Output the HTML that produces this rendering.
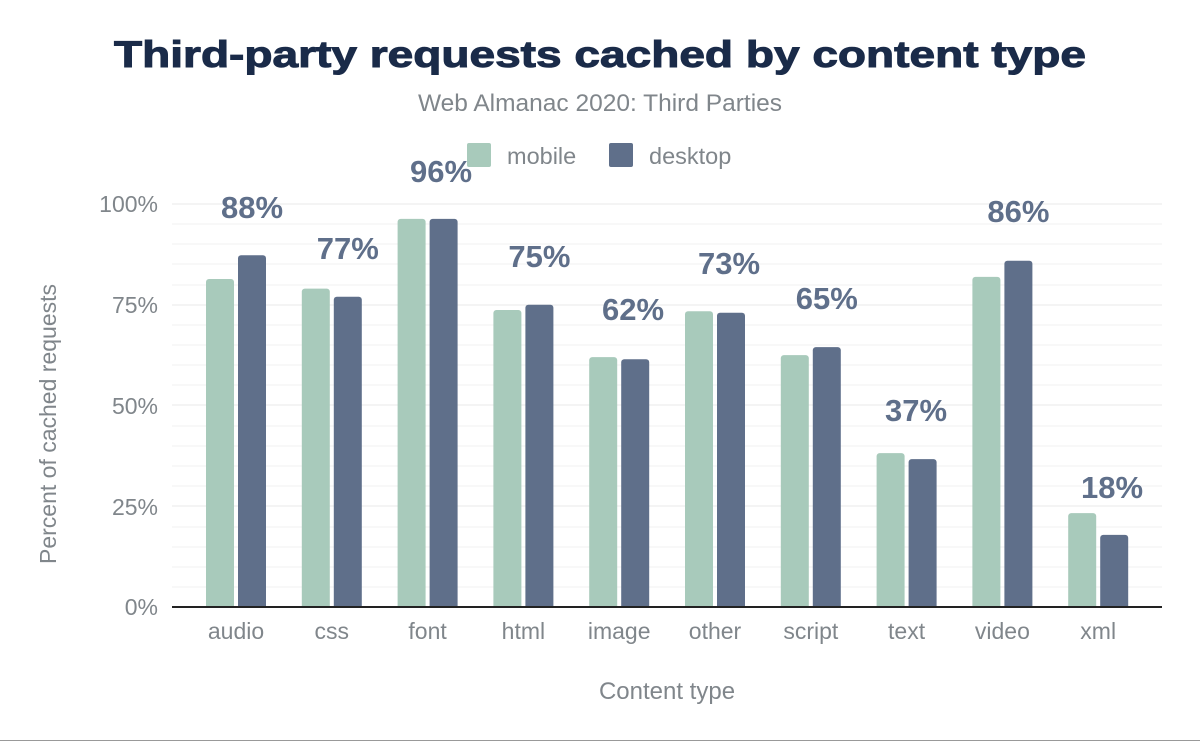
<!DOCTYPE html>
<html><head><meta charset="utf-8"><style>
html,body{margin:0;padding:0;background:#fff;}
svg{display:block;font-family:"Liberation Sans",Arial,sans-serif;}
</style></head><body>
<svg width="1200" height="742" viewBox="0 0 1200 742" xmlns="http://www.w3.org/2000/svg">
<defs><clipPath id="c"><rect x="0" y="0" width="1200" height="607"/></clipPath></defs>
<text x="600" y="67" text-anchor="middle" font-size="37" font-weight="900" fill="#1a2b49" textLength="972" lengthAdjust="spacingAndGlyphs" stroke="#1a2b49" stroke-width="1">Third-party requests cached by content type</text>
<text x="600" y="111" text-anchor="middle" font-size="24.5" fill="#80868b">Web Almanac 2020: Third Parties</text>
<rect x="467" y="143" width="24" height="24" rx="2" fill="#a8cabb"/>
<text x="507" y="164" font-size="23.5" fill="#80868b">mobile</text>
<rect x="609" y="143" width="24" height="24" rx="2" fill="#5f6f8a"/>
<text x="649" y="164" font-size="23.5" fill="#80868b">desktop</text>
<g stroke="#f1f1f1" stroke-width="1">
<line x1="172" x2="1162" y1="587" y2="587"/><line x1="172" x2="1162" y1="567" y2="567"/><line x1="172" x2="1162" y1="547" y2="547"/><line x1="172" x2="1162" y1="527" y2="527"/>
<line x1="172" x2="1162" y1="506" y2="506" stroke="#e8e8e8"/>
<line x1="172" x2="1162" y1="486" y2="486"/><line x1="172" x2="1162" y1="466" y2="466"/><line x1="172" x2="1162" y1="446" y2="446"/><line x1="172" x2="1162" y1="426" y2="426"/>
<line x1="172" x2="1162" y1="405" y2="405" stroke="#e8e8e8"/>
<line x1="172" x2="1162" y1="385" y2="385"/><line x1="172" x2="1162" y1="365" y2="365"/><line x1="172" x2="1162" y1="345" y2="345"/><line x1="172" x2="1162" y1="325" y2="325"/>
<line x1="172" x2="1162" y1="305" y2="305" stroke="#e8e8e8"/>
<line x1="172" x2="1162" y1="285" y2="285"/><line x1="172" x2="1162" y1="264" y2="264"/><line x1="172" x2="1162" y1="244" y2="244"/><line x1="172" x2="1162" y1="224" y2="224"/>
<line x1="172" x2="1162" y1="204" y2="204" stroke="#e8e8e8"/>
</g>
<g font-size="23" fill="#80868b" text-anchor="end">
<text x="158" y="212">100%</text><text x="158" y="313">75%</text><text x="158" y="414">50%</text><text x="158" y="515">25%</text><text x="158" y="615">0%</text>
</g>
<text transform="translate(56,424) rotate(-90)" text-anchor="middle" font-size="23" fill="#80868b">Percent of cached requests</text>
<g clip-path="url(#c)">
<g fill="#a8cabb">
<rect x="206" y="279.0" width="28" height="332" rx="3"/>
<rect x="301.8" y="288.6" width="28" height="322.4" rx="3"/>
<rect x="397.6" y="218.9" width="28" height="392.1" rx="3"/>
<rect x="493.4" y="310.0" width="28" height="301" rx="3"/>
<rect x="589.2" y="357.1" width="28" height="253.9" rx="3"/>
<rect x="685" y="311.2" width="28" height="299.8" rx="3"/>
<rect x="780.8" y="355.1" width="28" height="255.9" rx="3"/>
<rect x="876.6" y="453.1" width="28" height="157.9" rx="3"/>
<rect x="972.4" y="276.9" width="28" height="334.1" rx="3"/>
<rect x="1068.2" y="513.1" width="28" height="97.9" rx="3"/>
</g>
<g fill="#5f6f8a">
<rect x="238" y="255.2" width="28" height="355.8" rx="3"/>
<rect x="333.8" y="296.7" width="28" height="314.3" rx="3"/>
<rect x="429.6" y="218.9" width="28" height="392.1" rx="3"/>
<rect x="525.4" y="304.75" width="28" height="306.25" rx="3"/>
<rect x="621.2" y="359.2" width="28" height="251.8" rx="3"/>
<rect x="717" y="312.8" width="28" height="298.2" rx="3"/>
<rect x="812.8" y="347.1" width="28" height="263.9" rx="3"/>
<rect x="908.6" y="459.1" width="28" height="151.9" rx="3"/>
<rect x="1004.4" y="260.8" width="28" height="350.2" rx="3"/>
<rect x="1100.2" y="534.9" width="28" height="76.1" rx="3"/>
</g>
</g>
<g font-size="31" font-weight="bold" fill="#5f6f8a" text-anchor="middle">
<text x="252" y="218">88%</text>
<text x="347.8" y="259">77%</text>
<text x="441" y="182">96%</text>
<text x="539.4" y="267">75%</text>
<text x="633" y="320">62%</text>
<text x="729" y="274">73%</text>
<text x="826.8" y="309">65%</text>
<text x="916" y="421">37%</text>
<text x="1018.4" y="222">86%</text>
<text x="1112" y="498">18%</text>
</g>
<g font-size="23" fill="#80868b" text-anchor="middle">
<text x="236" y="639">audio</text>
<text x="331.8" y="639">css</text>
<text x="427.6" y="639">font</text>
<text x="523.4" y="639">html</text>
<text x="619.2" y="639">image</text>
<text x="715" y="639">other</text>
<text x="810.8" y="639">script</text>
<text x="906.6" y="639">text</text>
<text x="1002.4" y="639">video</text>
<text x="1098.2" y="639">xml</text>
</g>
<line x1="172" x2="1162" y1="607" y2="607" stroke="#222" stroke-width="2"/>
<text x="667" y="699" text-anchor="middle" font-size="24" fill="#80868b">Content type</text>
<line x1="0" x2="1200" y1="740.5" y2="740.5" stroke="#999" stroke-width="1"/>
</svg>
</body></html>
